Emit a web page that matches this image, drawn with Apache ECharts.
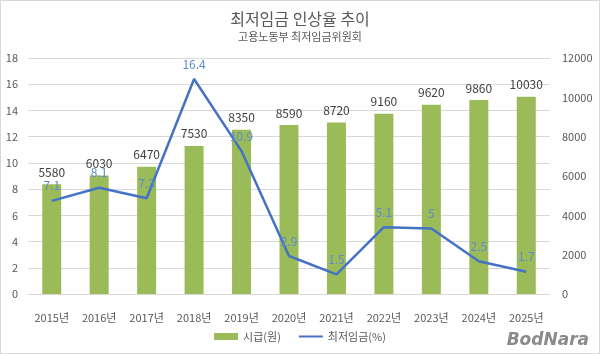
<!DOCTYPE html>
<html>
<head>
<meta charset="utf-8">
<script src="https://cdn.jsdelivr.net/npm/echarts@6/dist/echarts.min.js"></script>
<style>
  html, body { margin: 0; padding: 0; background: #fff; }
  #chart { width: 598px; height: 352px; border: 1px solid #d9d9d9; }
</style>
</head>
<body>
<div id="chart"></div>
<script>
const years = ["2015년", "2016년", "2017년", "2018년", "2019년", "2020년", "2021년", "2022년", "2023년", "2024년", "2025년"];
const wage = [5580, 6030, 6470, 7530, 8350, 8590, 8720, 9160, 9620, 9860, 10030];   // 시급(원)
const rate = [7.1, 8.1, 7.3, 16.4, 10.9, 2.9, 1.5, 5.1, 5, 2.5, 1.7];              // 최저임금(%)

const font = "'Noto Sans CJK KR', 'Noto Sans', sans-serif";
const myEchart = echarts.init(document.getElementById("chart"));

const option = {
  textStyle: { fontFamily: font },
  title: {
    text: "최저임금 인상율 추이",
    subtext: "고용노동부 최저임금위원회",
    left: "center",
    top: 5,
    itemGap: 4,
    textStyle: { fontSize: 16, fontWeight: "normal", color: "#595959", fontFamily: font },
    subtextStyle: { fontSize: 11, color: "#595959", fontFamily: font }
  },
  legend: {
    bottom: 6,
    left: "center",
    itemWidth: 24,
    itemHeight: 7,
    itemGap: 18,
    textStyle: { fontSize: 11, color: "#595959" },
    data: [
      { name: "시급(원)", icon: "rect" },
      { name: "최저임금(%)", icon: "path://M0,0 L24,0 L24,2 L0,2 Z", itemStyle: { color: "#4472c4", opacity: 1 } }
    ]
  },
  grid: { left: 27, right: 49, top: 57, bottom: 59 },
  xAxis: {
    type: "category",
    data: years,
    axisTick: { show: false },
    axisLine: { lineStyle: { color: "#d9d9d9" } },
    axisLabel: { color: "#595959", fontSize: 11, margin: 18 }
  },
  yAxis: [
    {
      type: "value",
      min: 0, max: 18, interval: 2,
      axisLabel: { color: "#595959", fontSize: 11, margin: 10 },
      splitLine: { lineStyle: { color: "#d9d9d9" } }
    },
    {
      type: "value",
      min: 0, max: 12000, interval: 2000,
      axisLabel: { color: "#595959", fontSize: 11, margin: 12, formatter: v => String(v) },
      splitLine: { show: false }
    }
  ],
  series: [
    {
      name: "시급(원)",
      type: "bar",
      yAxisIndex: 1,
      barWidth: 19,
      itemStyle: { color: "#9bbb59" },
      label: { show: true, position: "top", color: "#404040", fontSize: 12, distance: 6 },
      data: wage
    },
    {
      name: "최저임금(%)",
      type: "line",
      yAxisIndex: 0,
      symbol: "circle",
      symbolSize: 2,
      showSymbol: true,
      lineStyle: { color: "#4472c4", width: 2.5 },
      itemStyle: { color: "rgba(0,0,0,0)", borderWidth: 0 },
      label: { show: true, position: "top", color: "#5b8bd0", fontSize: 12, distance: 8 },
      labelLayout: { hideOverlap: false },
      z: 3,
      data: rate
    }
  ],
  graphic: [
    {
      type: "text",
      right: 10,
      bottom: 4,
      style: {
        text: "BodNara",
        fill: "#8a8a8a",
        font: "bold italic 17px 'DejaVu Sans', sans-serif"
      }
    }
  ]
};

myEchart.setOption(option);
</script>
</body>
</html>
